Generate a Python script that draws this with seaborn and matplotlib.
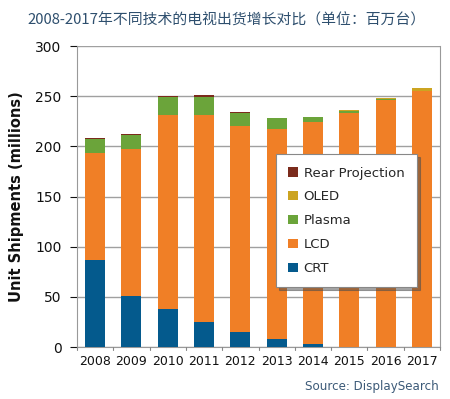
import matplotlib
matplotlib.use("Agg")
import matplotlib.pyplot as plt
import seaborn as sns
import numpy as np
import pandas as pd
from matplotlib.patches import Patch

years = ["2008", "2009", "2010", "2011", "2012", "2013", "2014", "2015", "2016", "2017"]
crt = [87, 51, 38, 25, 15, 8, 3, 0.5, 0, 0]
lcd = [106, 146, 193, 206, 205, 209, 221, 233, 246, 255]
plasma = [14, 14, 18, 18, 13, 11, 5, 2, 1, 0.3]
oled = [0, 0, 0, 0.3, 0, 0, 0.5, 1, 1.5, 3]
rear = [1.5, 1, 1.5, 2, 1.5, 0.3, 0, 0, 0, 0]

series_names = ["CRT", "LCD", "Plasma", "OLED", "Rear Projection"]
series_vals = [crt, lcd, plasma, oled, rear]
colors = ["#045A8D", "#F07F26", "#6BA43A", "#CCA421", "#7B2B1C"]

sns.set_theme(style="white")
plt.rcParams['font.family'] = ['DejaVu Sans', 'Noto Sans CJK SC']

fig = plt.figure(figsize=(4.5, 3.99), dpi=100)
ax = fig.add_axes([0.171, 0.1303, 0.807, 0.7544])

bottom = np.zeros(len(years))
for name, vals, col in zip(series_names, series_vals, colors):
    df = pd.DataFrame({"year": years, "val": vals})
    sns.barplot(data=df, x="year", y="val", color=col, bottom=bottom,
                width=0.55, ax=ax, saturation=1, linewidth=0, zorder=3)
    bottom = bottom + np.array(vals)

ax.set_ylim(0, 300)
ax.set_xlim(-0.5, len(years) - 0.5)
ax.set_yticks(range(0, 301, 50))
ax.yaxis.grid(True, color="#a0a0a0", linewidth=1.0, zorder=0)
ax.set_axisbelow(True)
ax.set_xlabel("")
ax.set_ylabel("Unit Shipments (millions)", fontsize=10.5, fontweight="bold",
              color="#111111", labelpad=8)
ax.tick_params(axis="y", labelsize=10, colors="#111111", length=5, width=0.8,
               direction="out", left=True, pad=6)
ax.tick_params(axis="x", labelsize=9, colors="#111111", length=0, pad=6)
for x in np.arange(-0.5, len(years), 1.0):
    ax.plot([x, x], [0, -3], color="#888888", lw=0.8, clip_on=False, zorder=4)
for s in ["left", "bottom", "right", "top"]:
    ax.spines[s].set_color("#999999")
    ax.spines[s].set_linewidth(0.8)
ax.spines["top"].set_visible(False)

handles = [Patch(facecolor=c, edgecolor="none") for c in colors][::-1]
labels = series_names[::-1]
leg = ax.legend(handles, labels, loc="upper left", bbox_to_anchor=(0.548, 0.641),
                fontsize=9.5, frameon=True, fancybox=False, shadow=True,
                framealpha=1, edgecolor="#888888", handlelength=0.7,
                handleheight=0.7, handletextpad=0.45, labelspacing=0.82,
                borderpad=0.95, borderaxespad=0)
leg.get_frame().set_linewidth(0.8)
leg.set_zorder(10)

fig.text(0.06, 0.95, "2008-2017年不同技术的电视出货增长对比（单位：百万台）",
         fontsize=10.7, color="#2E4F6E",
         family=['Noto Sans CJK SC', 'DejaVu Sans'], va="center")
fig.text(0.975, 0.032, "Source: DisplaySearch", fontsize=8.6, color="#3C5A78",
         ha="right", va="center")

fig.savefig("out.png", dpi=100)
